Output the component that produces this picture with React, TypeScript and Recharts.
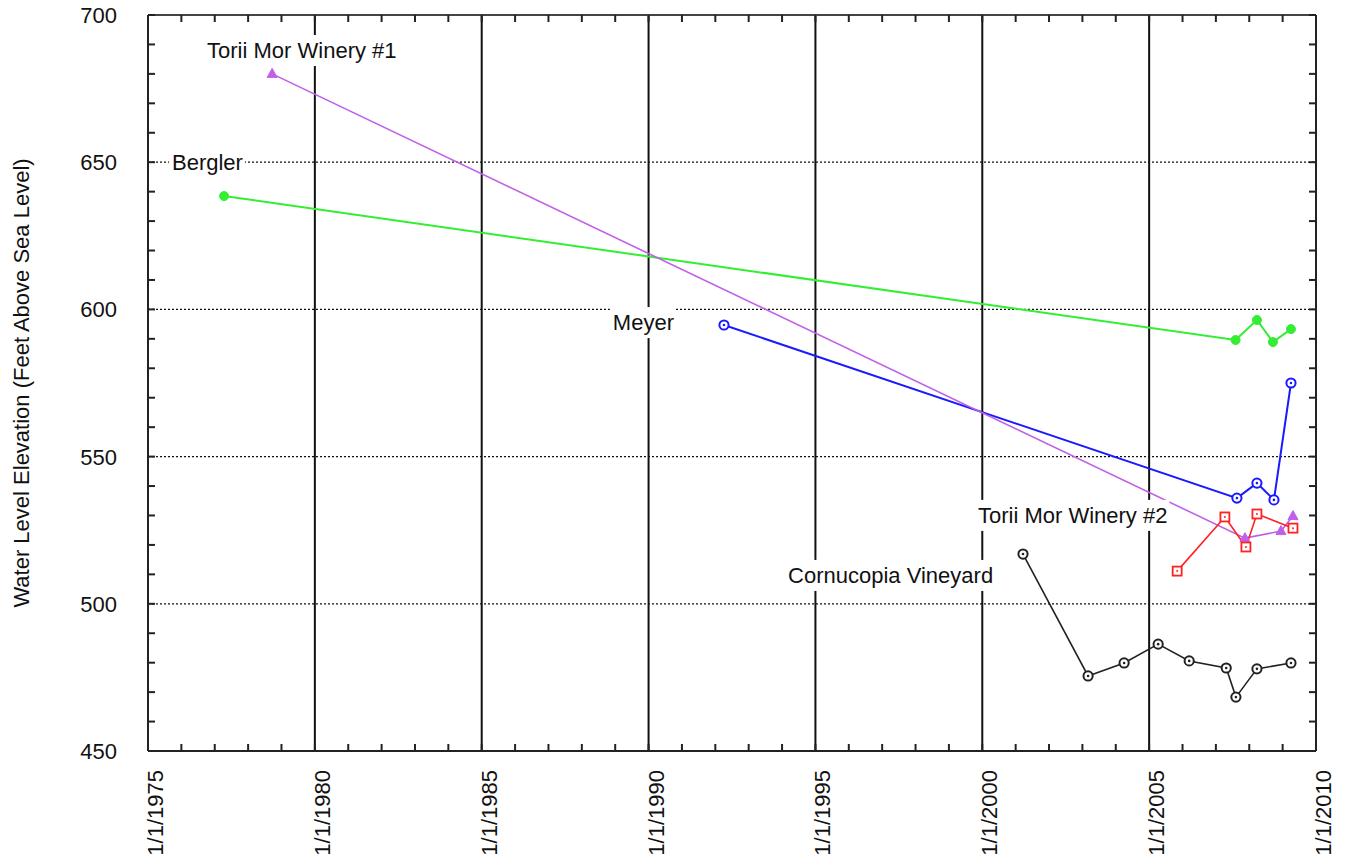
import React from 'react';
import { LineChart, Line, XAxis, YAxis, ReferenceLine, ReferenceDot } from 'recharts';

const FONT = '"Liberation Sans", Arial, Helvetica, sans-serif';

// Axis ticks (decimal years / feet)
const xTicks = [1975, 1980, 1985, 1990, 1995, 2000, 2005, 2010];
const xTickLabels = ['1/1/1975', '1/1/1980', '1/1/1985', '1/1/1990', '1/1/1995', '1/1/2000', '1/1/2005', '1/1/2010'];
const yTicks = [450, 500, 550, 600, 650, 700];
const xMinorTicks = Array.from({ length: 36 }, (_, i) => 1975 + i);
const yMinorTicks = Array.from({ length: 26 }, (_, i) => 450 + i * 10);

// Series values
const berglerYears = [1977.28, 2007.59, 2008.23, 2008.71, 2009.25];
const berglerLevels = [638.5, 589.6, 596.4, 588.9, 593.3];

const meyerYears = [1992.26, 2007.63, 2008.23, 2008.74, 2009.25];
const meyerLevels = [594.7, 535.9, 541.0, 535.3, 575.0];

const toriiMor1Years = [1978.72, 2007.87, 2008.95, 2009.31];
const toriiMor1Levels = [680.0, 522.3, 524.7, 529.8];

const toriiMor2Years = [2005.84, 2007.27, 2007.9, 2008.23, 2009.31];
const toriiMor2Levels = [511.1, 529.5, 519.3, 530.5, 525.7];

const cornucopiaYears = [2001.22, 2003.17, 2004.25, 2005.27, 2006.2, 2007.31, 2007.6, 2008.23, 2009.25];
const cornucopiaLevels = [516.9, 475.5, 479.9, 486.3, 480.6, 478.2, 468.3, 477.9, 479.9];

// Series name labels (left edge year, middle level)
const labelTexts = ['Torii Mor Winery #1', 'Bergler', 'Meyer', 'Torii Mor Winery #2', 'Cornucopia Vineyard'];
const labelYears = [1976.77, 1975.72, 1988.93, 1999.87, 1994.18];
const labelLevels = [688.1, 650.0, 595.7, 530.2, 509.8];

const zip = (xs: number[], ys: number[]) => xs.map((x, i) => ({ x, y: ys[i] }));

const berglerData = zip(berglerYears, berglerLevels);
const meyerData = zip(meyerYears, meyerLevels);
const torii1Data = zip(toriiMor1Years, toriiMor1Levels);
const torii2Data = zip(toriiMor2Years, toriiMor2Levels);
const cornucopiaData = zip(cornucopiaYears, cornucopiaLevels);
const labelData = labelTexts.map((t, i) => ({ t, x: labelYears[i], y: labelLevels[i] }));

const widthCache: Record<string, number> = {};
function textWidth(t: string): number {
  if (widthCache[t] == null) {
    const ctx = document.createElement('canvas').getContext('2d');
    if (ctx) {
      ctx.font = `22px ${FONT}`;
      widthCache[t] = ctx.measureText(t).width;
    } else {
      widthCache[t] = t.length * 11;
    }
  }
  return widthCache[t];
}

const GREEN = '#33ee33';
const BLUE = '#1a1aff';
const RED = '#ff2222';
const PURPLE = '#c060e8';
const BLACK = '#222222';

const filledCircle = (color: string) => (p: any) => {
  const { cx, cy, index } = p;
  if (cx == null || cy == null) return <g key={`fc${index}`} />;
  return <circle key={`fc${index}`} cx={cx} cy={cy} r={4.5} fill={color} stroke={color} strokeWidth={1} />;
};

const ringDot = (color: string) => (p: any) => {
  const { cx, cy, index } = p;
  if (cx == null || cy == null) return <g key={`rd${index}`} />;
  return (
    <g key={`rd${index}`}>
      <circle cx={cx} cy={cy} r={4.6} fill="#fff" stroke={color} strokeWidth={2} />
      <circle cx={cx} cy={cy} r={1.3} fill={color} />
    </g>
  );
};

const squareDot = (color: string) => (p: any) => {
  const { cx, cy, index } = p;
  if (cx == null || cy == null) return <g key={`sq${index}`} />;
  return (
    <g key={`sq${index}`}>
      <rect x={cx - 4.5} y={cy - 4.5} width={9} height={9} fill="#fff" stroke={color} strokeWidth={1.8} />
      <circle cx={cx} cy={cy} r={1} fill={color} />
    </g>
  );
};

const triangleDot = (color: string) => (p: any) => {
  const { cx, cy, index } = p;
  if (cx == null || cy == null) return <g key={`tr${index}`} />;
  return (
    <polygon
      key={`tr${index}`}
      points={`${cx},${cy - 5.5} ${cx - 5},${cy + 3.5} ${cx + 5},${cy + 3.5}`}
      fill={color}
      stroke={color}
      strokeWidth={1}
    />
  );
};

const EmptyTick = () => <g />;

const XTick = (p: any) => {
  const { x, y, payload } = p;
  const idx = xTicks.indexOf(payload.value);
  const label = idx >= 0 ? xTickLabels[idx] : '';
  const ax = x + 15;
  return (
    <text
      x={ax}
      y={y}
      transform={`rotate(-90, ${ax}, ${y})`}
      textAnchor="end"
      fontSize={22}
      fontFamily={FONT}
      fill="#111"
    >
      {label}
    </text>
  );
};

const YTick = (p: any) => {
  const { x, y, payload } = p;
  return (
    <text x={x} y={y} dy="0.36em" textAnchor="end" fontSize={22} fontFamily={FONT} fill="#111">
      {payload.value}
    </text>
  );
};

const YLabel = (p: any) => {
  const vb = p.viewBox || { x: 0, y: 15, width: 148, height: 736 };
  const cx = vb.x + 29;
  const cy = vb.y + vb.height / 2;
  return (
    <text
      x={cx}
      y={cy}
      transform={`rotate(-90, ${cx}, ${cy})`}
      textAnchor="middle"
      fontSize={22}
      fontFamily={FONT}
      fill="#111"
    >
      Water Level Elevation (Feet Above Sea Level)
    </text>
  );
};

const makeLabelShape = (t: string) => (p: any) => {
  const { cx, cy } = p;
  if (cx == null || cy == null) return <g />;
  const w = textWidth(t);
  return (
    <g>
      <rect x={cx - 3} y={cy - 15} width={w + 5} height={31} fill="#fff" />
      <text x={cx} y={cy} dy="0.36em" fontSize={22} fontFamily={FONT} fill="#111">
        {t}
      </text>
    </g>
  );
};

export default function App() {
  return (
    <div style={{ position: 'absolute', left: 0, top: 0, width: 1348, height: 865, background: '#fff' }}>
      <LineChart width={1348} height={865} margin={{ top: 15, right: 32, bottom: 0, left: 0 }}>
        <XAxis
          xAxisId={0}
          type="number"
          dataKey="x"
          domain={[1975, 2010]}
          ticks={xTicks}
          interval={0}
          allowDataOverflow
          height={114}
          tickSize={0}
          tickMargin={19}
          tickLine={false}
          tick={<XTick />}
          axisLine={{ stroke: '#222', strokeWidth: 2 }}
        />
        <XAxis
          xAxisId="minorBottom"
          type="number"
          dataKey="x"
          domain={[1975, 2010]}
          ticks={xMinorTicks}
          interval={0}
          allowDataOverflow
          orientation="bottom"
          mirror
          height={1}
          tick={<EmptyTick />}
          tickSize={7}
          tickLine={{ stroke: '#222', strokeWidth: 2 }}
          axisLine={false}
        />
        <XAxis
          xAxisId="top"
          type="number"
          dataKey="x"
          domain={[1975, 2010]}
          ticks={xMinorTicks}
          interval={0}
          allowDataOverflow
          orientation="top"
          mirror
          height={1}
          tick={<EmptyTick />}
          tickSize={7}
          tickLine={{ stroke: '#222', strokeWidth: 2 }}
          axisLine={{ stroke: '#444', strokeWidth: 2 }}
        />
        <YAxis
          yAxisId={0}
          type="number"
          dataKey="y"
          domain={[450, 700]}
          ticks={yTicks}
          interval={0}
          allowDataOverflow
          width={148}
          tickSize={0}
          tickMargin={31}
          tickLine={false}
          tick={<YTick />}
          axisLine={{ stroke: '#222', strokeWidth: 2 }}
          label={<YLabel />}
        />
        <YAxis
          yAxisId="minorLeft"
          type="number"
          dataKey="y"
          domain={[450, 700]}
          ticks={yMinorTicks}
          interval={0}
          allowDataOverflow
          orientation="left"
          mirror
          width={1}
          tick={<EmptyTick />}
          tickSize={7}
          tickLine={{ stroke: '#222', strokeWidth: 2 }}
          axisLine={false}
        />
        <YAxis
          yAxisId="right"
          type="number"
          dataKey="y"
          domain={[450, 700]}
          ticks={yMinorTicks}
          interval={0}
          allowDataOverflow
          orientation="right"
          mirror
          width={1}
          tick={<EmptyTick />}
          tickSize={7}
          tickLine={{ stroke: '#222', strokeWidth: 2 }}
          axisLine={{ stroke: '#222', strokeWidth: 2 }}
        />

        {xTicks.slice(1, -1).map((v) => (
          <ReferenceLine key={`vx${v}`} x={v} stroke="#111" strokeWidth={2} />
        ))}
        {yTicks.slice(1, -1).map((v) => (
          <ReferenceLine key={`hy${v}`} y={v} stroke="#111" strokeWidth={1.2} strokeDasharray="2 2" />
        ))}

        <Line
          data={berglerData}
          dataKey="y"
          name="Bergler"
          stroke={GREEN}
          strokeWidth={2}
          dot={filledCircle(GREEN)}
          isAnimationActive={false}
        />
        <Line
          data={meyerData}
          dataKey="y"
          name="Meyer"
          stroke={BLUE}
          strokeWidth={2}
          dot={ringDot(BLUE)}
          isAnimationActive={false}
        />
        <Line
          data={torii1Data}
          dataKey="y"
          name="Torii Mor Winery #1"
          stroke={PURPLE}
          strokeWidth={1.6}
          dot={triangleDot(PURPLE)}
          isAnimationActive={false}
        />
        <Line
          data={torii2Data}
          dataKey="y"
          name="Torii Mor Winery #2"
          stroke={RED}
          strokeWidth={1.6}
          dot={squareDot(RED)}
          isAnimationActive={false}
        />
        <Line
          data={cornucopiaData}
          dataKey="y"
          name="Cornucopia Vineyard"
          stroke={BLACK}
          strokeWidth={1.6}
          dot={ringDot(BLACK)}
          isAnimationActive={false}
        />

        {labelData.map((l) => (
          <ReferenceDot key={l.t} x={l.x} y={l.y} r={0} shape={makeLabelShape(l.t)} />
        ))}
      </LineChart>
    </div>
  );
}
